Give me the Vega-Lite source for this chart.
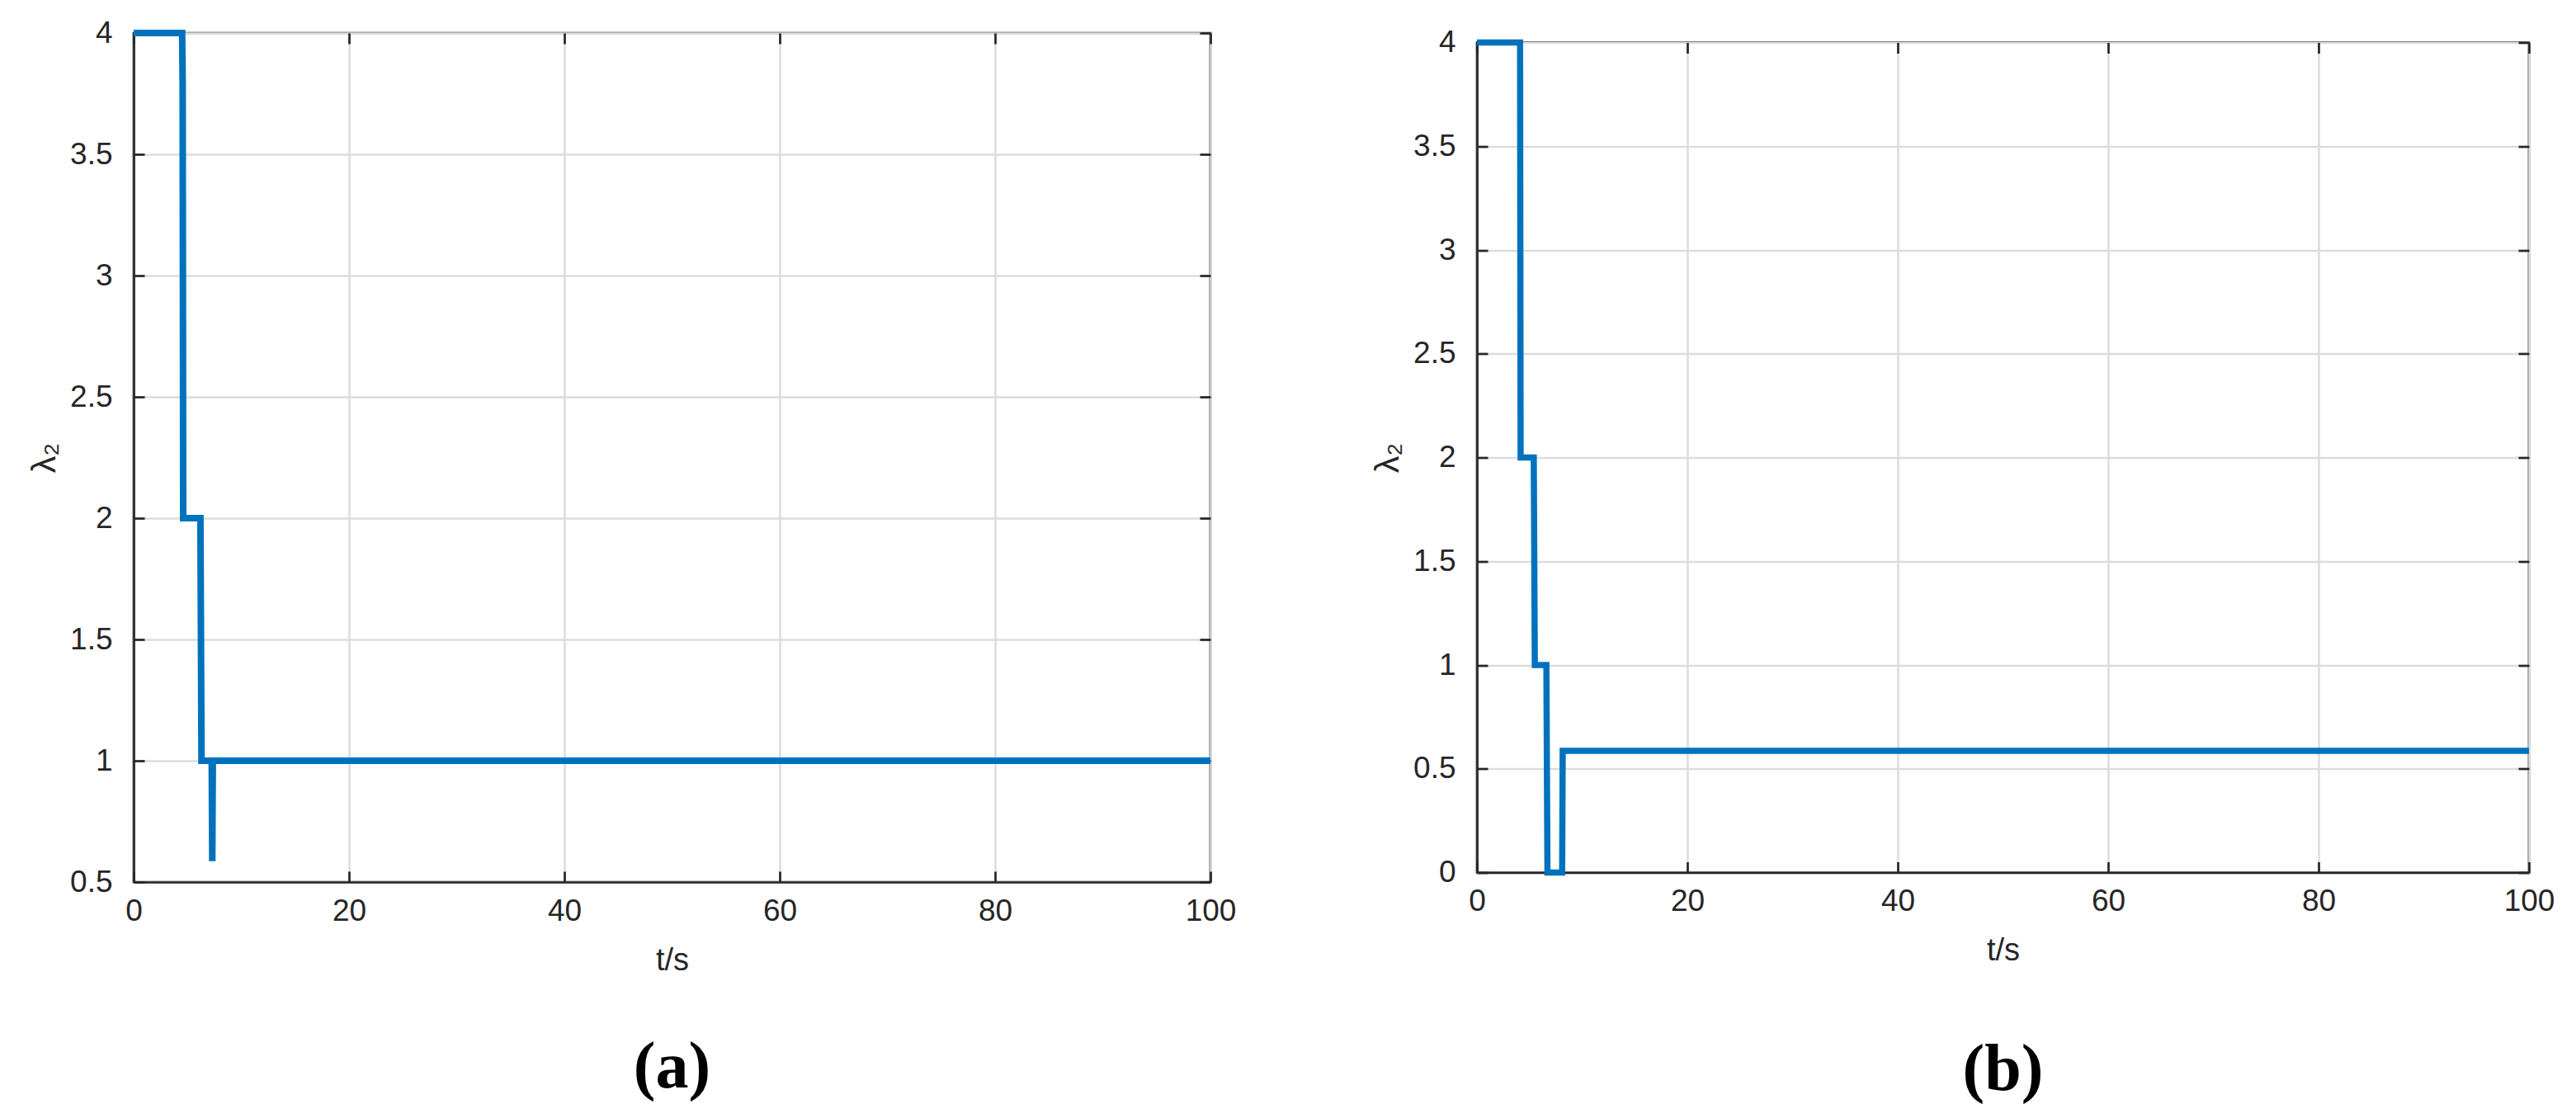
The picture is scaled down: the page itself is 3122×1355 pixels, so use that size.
{
  "$schema": "https://vega.github.io/schema/vega-lite/v6.json",
  "background": "white",
  "padding": {"left": 32, "top": 18, "right": 5, "bottom": 5},
  "spacing": 323,
  "bounds": "flush",
  "center": true,
  "config": {
    "view": {"stroke": "#262626", "strokeWidth": 2.7},
    "axis": {
      "labelFont": "Liberation Sans",
      "titleFont": "Liberation Sans",
      "labelFontSize": 37,
      "titleFontSize": 38,
      "titleFontWeight": "normal",
      "labelColor": "#262626",
      "titleColor": "#262626",
      "domainColor": "#262626",
      "domainWidth": 2.7,
      "tickColor": "#262626",
      "tickWidth": 2.7,
      "tickSize": -13,
      "gridColor": "#dcdcdc",
      "gridWidth": 2.5,
      "labelFlush": false,
      "labelOverlap": false
    },
    "title": {"font": "Liberation Serif", "fontWeight": "bold", "fontSize": 80, "color": "#000000"}
  },
  "datasets": {
    "a": [
      {"t": 0, "v": 4},
      {"t": 4.5, "v": 4},
      {"t": 4.55, "v": 3.8},
      {"t": 4.6, "v": 2},
      {"t": 6.2, "v": 2},
      {"t": 6.3, "v": 1},
      {"t": 7.25, "v": 1},
      {"t": 7.3, "v": 0.586},
      {"t": 7.35, "v": 1},
      {"t": 100, "v": 1}
    ],
    "b": [
      {"t": 0, "v": 4},
      {"t": 4.1, "v": 4},
      {"t": 4.15, "v": 2},
      {"t": 5.4, "v": 2},
      {"t": 5.5, "v": 1},
      {"t": 6.6, "v": 1},
      {"t": 6.7, "v": 0},
      {"t": 8.1, "v": 0},
      {"t": 8.15, "v": 0.586},
      {"t": 100, "v": 0.586}
    ]
  },
  "hconcat": [
    {
      "width": 1305,
      "height": 1029,
      "data": {"name": "a"},
      "title": {"text": "(a)", "orient": "bottom", "offset": 72},
      "layer": [
        {
          "mark": {"type": "line", "color": "#0072BD", "strokeWidth": 8, "strokeJoin": "miter"},
          "encoding": {
            "x": {"field": "t", "type": "quantitative", "scale": {"domain": [0, 100], "nice": false},
              "axis": {"orient": "bottom", "values": [0, 20, 40, 60, 80, 100], "grid": true, "title": "t/s", "labelPadding": 30, "titlePadding": 23}},
            "y": {"field": "v", "type": "quantitative", "scale": {"domain": [0.5, 4], "nice": false, "zero": false},
              "axis": {"orient": "left", "values": [0.5, 1, 1.5, 2, 2.5, 3, 3.5, 4], "format": "~g", "grid": true, "title": "λ₂", "titleFontSize": 41, "labelPadding": 39, "titlePadding": 9}}
          }
        },
        {
          "mark": {"type": "line", "opacity": 0},
          "encoding": {
            "x": {"field": "t", "type": "quantitative",
              "axis": {"orient": "top", "values": [0, 20, 40, 60, 80, 100], "grid": false, "labels": false, "domain": false, "title": null, "minExtent": 20, "maxExtent": 20}},
            "y": {"field": "v", "type": "quantitative",
              "axis": {"orient": "right", "values": [0.5, 1, 1.5, 2, 2.5, 3, 3.5, 4], "grid": false, "labels": false, "domain": false, "title": null, "minExtent": 0, "maxExtent": 0}}
          }
        }
      ]
    },
    {
      "width": 1275,
      "height": 1006,
      "data": {"name": "b"},
      "title": {"text": "(b)", "orient": "bottom", "offset": 86},
      "layer": [
        {
          "mark": {"type": "line", "color": "#0072BD", "strokeWidth": 7.5, "strokeJoin": "miter"},
          "encoding": {
            "x": {"field": "t", "type": "quantitative", "scale": {"domain": [0, 100], "nice": false},
              "axis": {"orient": "bottom", "values": [0, 20, 40, 60, 80, 100], "grid": true, "title": "t/s", "labelPadding": 30, "titlePadding": 23}},
            "y": {"field": "v", "type": "quantitative", "scale": {"domain": [0, 4], "nice": false},
              "axis": {"orient": "left", "values": [0, 0.5, 1, 1.5, 2, 2.5, 3, 3.5, 4], "format": "~g", "grid": true, "title": "λ₂", "titleFontSize": 41, "labelPadding": 39, "titlePadding": 9}}
          }
        },
        {
          "mark": {"type": "line", "opacity": 0},
          "encoding": {
            "x": {"field": "t", "type": "quantitative",
              "axis": {"orient": "top", "values": [0, 20, 40, 60, 80, 100], "grid": false, "labels": false, "domain": false, "title": null, "minExtent": 20, "maxExtent": 20}},
            "y": {"field": "v", "type": "quantitative",
              "axis": {"orient": "right", "values": [0, 0.5, 1, 1.5, 2, 2.5, 3, 3.5, 4], "grid": false, "labels": false, "domain": false, "title": null, "minExtent": 0, "maxExtent": 0}}
          }
        }
      ]
    }
  ]
}
